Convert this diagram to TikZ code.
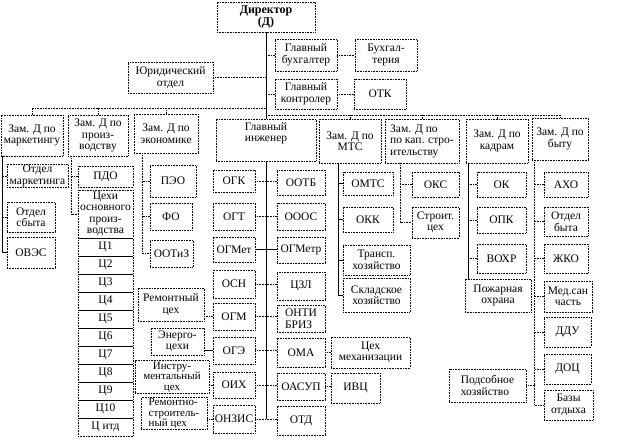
\documentclass[tikz,border=0pt]{standalone}
\usepackage{fontspec}
\setmainfont{Liberation Serif}
\usetikzlibrary{positioning,chains}

\begin{document}
\begin{tikzpicture}[x=1pt, y=-1pt, line width=0.6pt,
    font=\fontsize{11.5}{11.5}\selectfont,
    box/.style={draw, densely dotted, inner sep=1pt, align=center},
    sz/.style 2 args={minimum width=#1pt, minimum height=#2pt},
    cell/.style={box, sz={55}{18}, outer sep=0pt},
    wire/.style={densely dotted}]

  \useasboundingbox (0,0) rectangle (617,441);

  % director and staff
  \node[box, sz={98}{30}, font=\fontsize{12}{12.5}\selectfont\bfseries] (dir) at (266,17) {Директор\\(Д)};
  \node[box, sz={62}{32}] (gbuh) at (306,55) {Главный\\бухгалтер};
  \node[box, sz={62}{32}] (buh) at (386,55) {Бухгал-\\терия};
  \node[box, sz={62}{30}] (gkon) at (306,94) {Главный\\контролер};
  \node[box, sz={52}{30}] (otk) at (380,94) {ОТК};
  \node[box, sz={85}{31}] (jur) at (170.5,77.5) {Юридический\\отдел};

  % deputies
  \node[box, sz={62}{41}] (zmark) at (32,135.5) {Зам. Д по\\маркетингу};
  \node[box, sz={60}{41}] (zproizv) at (98,135.5) {Зам. Д по\\произ-\\водству};
  \node[box, sz={64}{39}] (zecon) at (166,133.5) {Зам. Д по\\экономике};
  \node[box, sz={100}{42}] (gi) at (266,140) {Главный\\инженер\\[4pt]};
  \node[box, sz={62}{44}] (zmts) at (350,141) {Зам. Д по\\МТС};
  \node[box, sz={74}{44}, align=left] (zkap) at (422,141) {Зам. Д по\\по кап. стро-\\ительству};
  \node[box, sz={62}{44}] (zkadr) at (497,141) {Зам. Д по\\кадрам};
  \node[box, sz={56}{42}] (zbyt) at (560,139) {Зам. Д по\\быту};

  % marketing
  \node[box, sz={61}{22}] (omark) at (37.5,176) {Отдел\\маркетинга};
  \node[box, sz={48}{30}] (osbyt) at (31,217) {Отдел\\сбыта};
  \node[box, sz={48}{31}] (oves) at (31,252.5) {ОВЭС};

  % production
  \node[box, sz={55}{21}] (pdo) at (105.5,176.5) {ПДО};
  \node[box, sz={55}{48}] (cehi) at (105.5,214) {Цехи\\основного\\произ-\\водства};
  \begin{scope}[start chain=shops going below, node distance=0pt]
    \node[cell, on chain, below=0pt of cehi] (c1) {Ц1};
    \foreach \i in {2,...,10}
      \node[cell, on chain] (c\i) {Ц\i};
    \node[cell, on chain] (citd) {Ц итд};
  \end{scope}

  % economics
  \node[box, sz={46}{32}] (peo) at (173,181) {ПЭО};
  \node[box, sz={42}{27}] (fo) at (171,216.5) {ФО};
  \node[box, sz={43}{27}] (ootiz) at (171.5,253.5) {ООТиЗ};

  % chief engineer
  \node[box, sz={42}{22}] (ogk) at (234,181) {ОГК};
  \node[box, sz={48}{25}] (ootb) at (301,182.5) {ООТБ};
  \node[box, sz={42}{27}] (ogt) at (234,216.5) {ОГТ};
  \node[box, sz={48}{27}] (oooc) at (301,216.5) {ОООС};
  \node[box, sz={42}{25}] (ogmet) at (234,249.5) {ОГМет};
  \node[box, sz={48}{26}] (ogmetr) at (301,250) {ОГМетр};
  \node[box, sz={42}{28}] (osn) at (234,284) {ОСН};
  \node[box, sz={48}{28}] (czl) at (301,286) {ЦЗЛ};
  \node[box, sz={42}{27}] (ogm) at (234,316.5) {ОГМ};
  \node[box, sz={48}{27}, align=left] (onti) at (301,318.5) {ОНТИ\\БРИЗ};
  \node[box, sz={42}{27}] (oge) at (234,350.5) {ОГЭ};
  \node[box, sz={48}{29}] (oma) at (301,352.5) {ОМА};
  \node[box, sz={42}{26}] (oih) at (234,385) {ОИХ};
  \node[box, sz={48}{27}] (oasup) at (301,386.5) {ОАСУП};
  \node[box, sz={42}{28}] (onzis) at (234,419) {ОНЗИС};
  \node[box, sz={48}{29}] (otd) at (301,420.5) {ОТД};

  \node[box, sz={66}{33}] (remc) at (171,304.5) {Ремонтный\\цех};
  \node[box, sz={53}{27}] (energ) at (177.5,341.5) {Энерго-\\цехи};
  \node[box, sz={74}{33}, font=\fontsize{11}{10.5}\selectfont] (instr) at (172,377) {Инстру-\\ментальный\\цех};
  \node[box, sz={66}{32}, align=left, font=\fontsize{11}{10.5}\selectfont] (remstr) at (174,413.5) {Ремонтно-\\строитель-\\ный цех};
  \node[box, sz={79}{31}] (mech) at (370.5,352.5) {Цех\\механизации};
  \node[box, sz={49}{30}] (ivc) at (355.5,388) {ИВЦ};

  % MTS
  \node[box, sz={50}{23}] (omts) at (368,183.5) {ОМТС};
  \node[box, sz={50}{25}] (okk) at (368,219.5) {ОКК};
  \node[box, sz={67}{30}] (transp) at (376.5,260) {Трансп.\\хозяйство};
  \node[box, sz={67}{34}] (sklad) at (376.5,295) {Складское\\хозяйство};

  % construction
  \node[box, sz={47}{25}] (oks) at (435.5,184.5) {ОКС};
  \node[box, sz={47}{31}] (stroit) at (435.5,222.5) {Строит.\\цех};

  % personnel
  \node[box, sz={49}{25}] (ok) at (501.5,184.5) {ОК};
  \node[box, sz={49}{26}] (opk) at (501.5,220) {ОПК};
  \node[box, sz={49}{29}] (vohr) at (501.5,258.5) {ВОХР};
  \node[box, sz={66}{33}] (pozh) at (498,295.5) {Пожарная\\охрана};

  % welfare
  \node[box, sz={44}{25}] (aho) at (566,184.5) {АХО};
  \node[box, sz={44}{29}] (otbyt) at (566,221.5) {Отдел\\быта};
  \node[box, sz={44}{29}] (zhko) at (566,258.5) {ЖКО};
  \node[box, sz={48}{31}] (med) at (568,296.5) {Мед.сан\\часть};
  \node[box, sz={47}{30}] (ddu) at (567.5,332) {ДДУ};
  \node[box, sz={47}{30}] (doc) at (567.5,369) {ДОЦ};
  \node[box, sz={49}{30}] (baza) at (568.5,405) {Базы\\отдыха};
  \node[box, sz={77}{33}, align=left] (podsob) at (487.5,385.5) {Подсобное\\хозяйство};

  % trunk and buses
  \draw (dir.south) -- (gi.north);
  \draw[wire] (gbuh.west) -- (gbuh.west -| dir.south);
  \draw[wire] (gbuh.east) -- (buh.west);
  \draw[wire] (gkon.west) -- (gkon.west -| dir.south);
  \draw[wire] (gkon.east) -- (otk.west);
  \draw[wire] (jur.east) -- (jur.east -| dir.south);
  \coordinate (lb) at (266,108);
  \coordinate (rb) at (266,115);
  \draw[wire] (zmark.north) |- (lb);
  \draw[wire] (zproizv.north) -- (zproizv.north |- lb);
  \draw[wire] (zecon.north) -- (zecon.north |- lb);
  \draw[wire] (rb) -| (zbyt.north);
  \foreach \n in {zmts,zkap,zkadr}
    \draw[wire] (\n.north) -- (\n.north |- rb);

  % verticals
  \coordinate (mv) at ([xshift=2pt]zmark.south west);
  \coordinate (pv) at ([xshift=4pt]zproizv.south west);
  \coordinate (ev) at ([xshift=9pt]zecon.south west);
  \coordinate (tv) at ([xshift=-12pt]zmts.south);
  \coordinate (sv) at ([xshift=16pt]zkap.south west);
  \coordinate (kv) at ([xshift=3pt]zkadr.south west);
  \coordinate (bv) at ([xshift=3pt]zbyt.south west);

  \draw (mv) |- (oves.west);
  \foreach \n in {omark,osbyt}
    \draw[wire] (\n.west) -- (\n.west -| mv);
  \draw[wire] (pv) |- (cehi.west);
  \draw[wire] (pdo.west) -- (pdo.west -| pv);
  \draw[wire] (ev) |- (ootiz.west);
  \foreach \n in {peo,fo}
    \draw[wire] (\n.west) -- (\n.west -| ev);

  \draw (gi.south) -- (gi.south |- onzis.east);
  \foreach \a/\b in {ogk/ootb,ogt/oooc,osn/czl,ogm/onti,oge/oma,oih/oasup,onzis/otd}
    \draw[wire] (\a.east) -- (\a.east -| \b.west);
  \draw (ogmet.east) -- (ogmet.east -| ogmetr.west);
  \draw[wire] (ogm.west) -- (ogm.west -| remc.east);
  \draw (oge.west) -- (oge.west -| energ.east);
  \draw[wire] (oih.west) -- (oih.west -| instr.east);
  \draw[wire] (onzis.west) -- (onzis.west -| remstr.east);
  \draw[wire] (oma.east) -- (oma.east -| mech.west);
  \draw[wire] (oasup.east) -- (oasup.east -| ivc.west);

  \draw (tv) |- (sklad.west);
  \foreach \n in {omts,okk,transp}
    \draw (\n.west) -- (\n.west -| tv);
  \draw[wire] (sv) |- (stroit.west);
  \draw[wire] (oks.west) -- (oks.west -| sv);
  \draw (kv) -- (kv |- pozh.north);
  \foreach \n in {ok,opk,vohr}
    \draw[wire] (\n.west) -- (\n.west -| kv);
  \draw[wire] (bv) |- (baza.west);
  \foreach \n in {aho,otbyt,zhko,med,ddu,doc}
    \draw[wire] (\n.west) -- (\n.west -| bv);
  \draw[wire] (podsob.east) -- (podsob.east -| bv);
\end{tikzpicture}
\end{document}
